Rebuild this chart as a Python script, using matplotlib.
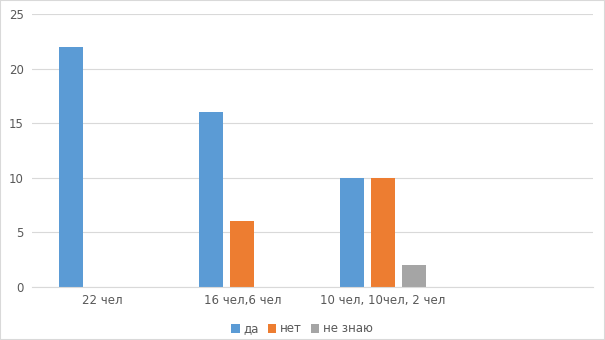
import matplotlib.pyplot as plt
import numpy as np
from matplotlib.patches import Rectangle

# chart data
categories = ['22 чел', '16 чел,6 чел', '10 чел, 10чел, 2 чел', '']
series_names = ['да', 'нет', 'не знаю']
da = [22, 16, 10, 0]
net = [0, 6, 10, 0]
ne_znayu = [0, 0, 2, 0]
colors = ['#5B9BD5', '#ED7D31', '#A5A5A5']

text_color = '#595959'
grid_color = '#D9D9D9'

fig = plt.figure(figsize=(6.05, 3.4), dpi=100)
ax = fig.add_axes([32 / 605, 53 / 340, 561 / 605, 273 / 340])

x = np.arange(len(categories))
width = 0.171
step = 0.221
for i, (vals, name) in enumerate(zip([da, net, ne_znayu], series_names)):
    ax.bar(x + (i - 1) * step, vals, width, color=colors[i], label=name, linewidth=0)

ax.set_xlim(-0.5, len(categories) - 0.5)
ax.set_ylim(0, 25)
ax.set_yticks(range(0, 26, 5))
ax.set_xticks(x)
ax.set_xticklabels(categories)
ax.yaxis.grid(True, color=grid_color, linewidth=0.8)
ax.set_axisbelow(True)
for side in ['top', 'right', 'left']:
    ax.spines[side].set_visible(False)
ax.spines['bottom'].set_color(grid_color)
ax.tick_params(length=0, colors=text_color, labelsize=8.5)
ax.tick_params(axis='y', pad=6)
ax.tick_params(axis='x', pad=5)

leg = fig.legend(loc='center', bbox_to_anchor=(302 / 605, 1 - 329 / 340), ncol=3,
                 frameon=False, fontsize=8.5, handlelength=0.7, handleheight=0.7,
                 handletextpad=0.3, columnspacing=0.8)
for t in leg.get_texts():
    t.set_color(text_color)

# outer border of the chart area
fig.patches.append(Rectangle((0, 0), 1, 1, transform=fig.transFigure, fill=False,
                             edgecolor='#D9D9D9', linewidth=1.5))

fig.savefig('out.png', dpi=100, facecolor='white')
